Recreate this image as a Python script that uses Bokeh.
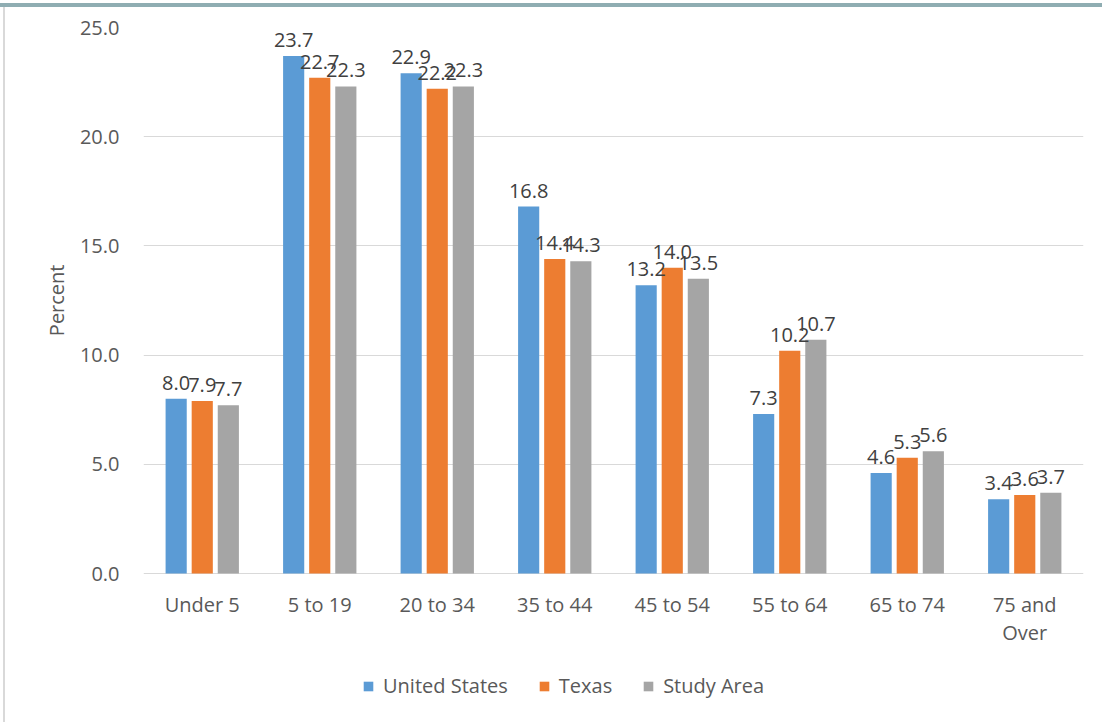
from bokeh.plotting import figure
from bokeh.models import (ColumnDataSource, FixedTicker, NumeralTickFormatter, Legend, LegendItem,
                          Range1d, LabelSet, Title, Div)
from bokeh.layouts import column, row
from bokeh.core.properties import value
from bokeh.embed import file_html
from bokeh.resources import INLINE

categories = ["Under 5", "5 to 19", "20 to 34", "35 to 44", "45 to 54", "55 to 64", "65 to 74", "75 and\nOver"]
us = [8.0, 23.7, 22.9, 16.8, 13.2, 7.3, 4.6, 3.4]
texas = [7.9, 22.7, 22.2, 14.4, 14.0, 10.2, 5.3, 3.6]
study = [7.7, 22.3, 22.3, 14.3, 13.5, 10.7, 5.6, 3.7]
series_names = ["United States", "Texas", "Study Area"]
colors = ["#5B9BD5", "#ED7D31", "#A5A5A5"]
y_ticks = [0, 5, 10, 15, 20, 25]

FONT = "Open Sans"
FS = "20px"
TXT = "#595959"

# page offsets from decorative borders
OFF_X, OFF_Y = 5, 7
W, H = 1102 - OFF_X, 722 - OFF_Y
# layout in figure pixels: plot area top, zero line, frame bottom (extended to hold legend)
FRAME_TOP, ZERO_PX, FRAME_BOTTOM = 27 - OFF_Y, 573 - OFF_Y, 715 - OFF_Y
Y_MAX = 25
y_min = -(FRAME_BOTTOM - ZERO_PX) / (ZERO_PX - FRAME_TOP) * Y_MAX

p = figure(width=W, height=H, output_backend="svg", toolbar_location=None,
           x_range=Range1d(-0.5, len(categories) - 0.5), y_range=Range1d(y_min, Y_MAX))
p.min_border_left = 143 - OFF_X
p.min_border_right = 19
p.min_border_top = FRAME_TOP
p.min_border_bottom = H - FRAME_BOTTOM
p.outline_line_color = None
p.background_fill_color = "white"
p.border_fill_color = "white"

p.xgrid.grid_line_color = None
p.ygrid.grid_line_color = "#D9D9D9"
p.ygrid.grid_line_width = 1
p.xaxis.visible = False

p.yaxis.ticker = FixedTicker(ticks=y_ticks)
p.yaxis.formatter = NumeralTickFormatter(format="0.0")
p.yaxis.axis_line_color = None
p.yaxis.major_tick_line_color = None
p.yaxis.minor_tick_line_color = None
p.yaxis.major_label_text_font = FONT
p.yaxis.major_label_text_font_size = FS
p.yaxis.major_label_text_color = TXT
p.yaxis.major_label_standoff = 18

ytitle = Title(text="Percent", align="right", offset=237, text_font=FONT, text_font_size=FS,
               text_font_style="normal", text_color=TXT, standoff=14)
p.add_layout(ytitle, "left")

xs = list(range(len(categories)))

# category labels under the zero line (each line centred on its own)
first_lines = [c.split("\n")[0] for c in categories]
second_lines = [c.split("\n")[1] if "\n" in c else "" for c in categories]
for lines, dy in ((first_lines, -17), (second_lines, -45)):
    cat_src = ColumnDataSource(dict(x=xs, y=[0] * len(xs), t=lines))
    p.add_layout(LabelSet(x="x", y="y", text="t", source=cat_src, text_align="center",
                          text_baseline="top", y_offset=dy, text_font=value(FONT),
                          text_font_size=value(FS), text_color=TXT))

offsets = [-0.222, 0.0, 0.222]
bar_w = 0.18
items = []
for name, vals, col, off in zip(series_names, [us, texas, study], colors, offsets):
    src = ColumnDataSource(dict(x=[x + off for x in xs], top=vals,
                                lab=[f"{v:.1f}" for v in vals]))
    r = p.vbar(x="x", top="top", width=bar_w, bottom=0, source=src,
               fill_color=col, line_color=None)
    items.append(LegendItem(label=name, renderers=[r]))
    lbl = LabelSet(x="x", y="top", text="lab", source=src, text_align="center",
                   text_baseline="alphabetic", y_offset=9, text_font=value(FONT),
                   text_font_size=value(FS), text_color="#404040")
    p.add_layout(lbl)

legend = Legend(items=items, orientation="horizontal", location=(219, 16),
                label_text_font=FONT, label_text_font_size=FS, label_text_color=TXT,
                glyph_width=12, glyph_height=12, spacing=30, label_standoff=9,
                background_fill_alpha=0, border_line_color=None, padding=0, margin=0)
p.add_layout(legend, "center")

top_band = Div(width=1102, height=4, margin=(3, 0, 0, 0),
               styles={"background-color": "#8FADB2"})
left_line = Div(width=2, height=H, margin=(0, 0, 0, 3),
                styles={"background-color": "#D9D9D9"})
layout = column(top_band, row(left_line, p))

open("out.html", "w").write(file_html(layout, INLINE))
